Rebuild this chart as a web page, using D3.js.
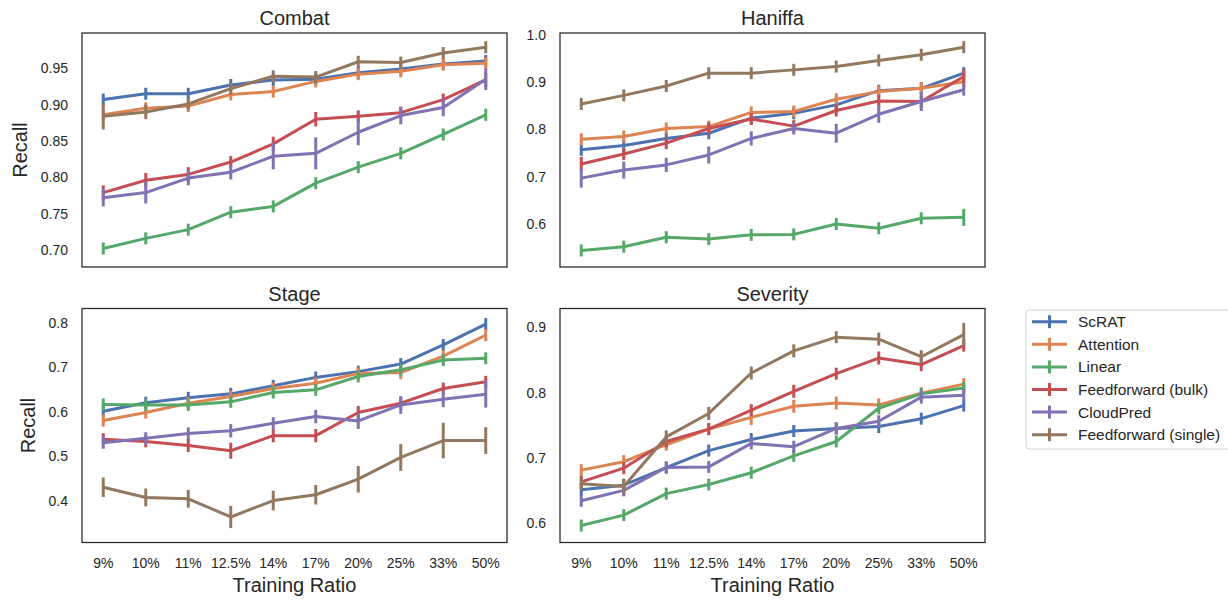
<!DOCTYPE html>
<html>
<head>
<meta charset="utf-8">
<script src="https://cdn.jsdelivr.net/npm/d3@7"></script>
<style>
  body { margin: 0; background: #fff; }
  svg { font-family: 'Liberation Sans', Arial, sans-serif; }
  .tick-label { fill: #262626; font-size: 14px; }
  .title { fill: #262626; font-size: 20px; }
  .axis-label { fill: #262626; font-size: 20px; }
  .legend-label { fill: #262626; font-size: 15.5px; }
</style>
</head>
<body>
<svg width="1228" height="600"></svg>
<script>
(function(d3) {
  'use strict';

  const ratios = ['9%', '10%', '11%', '12.5%', '14%', '17%', '20%', '25%', '33%', '50%'];
  const models = ['ScRAT', 'Attention', 'Linear', 'Feedforward (bulk)', 'CloudPred', 'Feedforward (single)'];
  const colors = ['#4c72b0', '#dd8452', '#55a868', '#c44e52', '#8172b3', '#937860'];

  // Mean recall per model (same order as `models`), one array per dataset.
  const combatRecall = [
    [0.907, 0.915, 0.915, 0.927, 0.934, 0.935, 0.944, 0.949, 0.956, 0.960],
    [0.886, 0.895, 0.898, 0.914, 0.918, 0.932, 0.942, 0.946, 0.955, 0.957],
    [0.702, 0.716, 0.728, 0.752, 0.760, 0.792, 0.814, 0.833, 0.859, 0.886],
    [0.779, 0.796, 0.804, 0.821, 0.846, 0.880, 0.884, 0.889, 0.907, 0.934],
    [0.772, 0.779, 0.799, 0.807, 0.829, 0.833, 0.862, 0.885, 0.896, 0.935],
    [0.884, 0.890, 0.901, 0.922, 0.939, 0.938, 0.959, 0.958, 0.971, 0.979],
  ];
  const combatErr = [
    [0.004, 0.004, 0.004, 0.004, 0.004, 0.004, 0.004, 0.004, 0.004, 0.004],
    [0.005, 0.005, 0.005, 0.005, 0.006, 0.005, 0.005, 0.005, 0.005, 0.005],
    [0.004, 0.005, 0.005, 0.005, 0.005, 0.006, 0.005, 0.005, 0.005, 0.006],
    [0.010, 0.010, 0.010, 0.008, 0.010, 0.010, 0.008, 0.008, 0.006, 0.010],
    [0.012, 0.015, 0.010, 0.010, 0.018, 0.022, 0.018, 0.012, 0.012, 0.015],
    [0.018, 0.010, 0.008, 0.005, 0.006, 0.006, 0.005, 0.005, 0.005, 0.005],
  ];

  const haniffaRecall = [
    [0.757, 0.766, 0.781, 0.792, 0.824, 0.834, 0.852, 0.882, 0.887, 0.919],
    [0.779, 0.785, 0.802, 0.806, 0.836, 0.838, 0.864, 0.880, 0.887, 0.901],
    [0.544, 0.552, 0.572, 0.568, 0.577, 0.578, 0.600, 0.591, 0.612, 0.614],
    [0.727, 0.748, 0.771, 0.802, 0.822, 0.807, 0.840, 0.860, 0.859, 0.912],
    [0.697, 0.714, 0.725, 0.746, 0.781, 0.802, 0.792, 0.832, 0.859, 0.884],
    [0.854, 0.872, 0.892, 0.919, 0.919, 0.926, 0.933, 0.946, 0.958, 0.974],
  ];
  const haniffaErr = [
    [0.010, 0.010, 0.010, 0.010, 0.010, 0.010, 0.010, 0.010, 0.010, 0.010],
    [0.008, 0.008, 0.008, 0.008, 0.008, 0.008, 0.008, 0.008, 0.008, 0.008],
    [0.005, 0.006, 0.005, 0.005, 0.005, 0.006, 0.008, 0.010, 0.010, 0.018],
    [0.015, 0.012, 0.012, 0.010, 0.010, 0.010, 0.010, 0.010, 0.010, 0.015],
    [0.020, 0.018, 0.015, 0.018, 0.015, 0.012, 0.020, 0.018, 0.020, 0.012],
    [0.012, 0.012, 0.012, 0.012, 0.012, 0.010, 0.010, 0.010, 0.010, 0.008],
  ];

  const stageRecall = [
    [0.601, 0.620, 0.631, 0.640, 0.658, 0.677, 0.690, 0.707, 0.750, 0.797],
    [0.580, 0.598, 0.619, 0.634, 0.652, 0.664, 0.686, 0.688, 0.725, 0.772],
    [0.616, 0.615, 0.615, 0.622, 0.643, 0.649, 0.679, 0.694, 0.716, 0.720],
    [0.538, 0.533, 0.524, 0.512, 0.546, 0.546, 0.598, 0.619, 0.652, 0.667],
    [0.530, 0.540, 0.551, 0.557, 0.574, 0.589, 0.579, 0.615, 0.628, 0.639],
    [0.430, 0.407, 0.404, 0.363, 0.400, 0.413, 0.448, 0.497, 0.535, 0.535],
  ];
  const stageErr = [
    [0.008, 0.008, 0.008, 0.008, 0.008, 0.008, 0.008, 0.008, 0.008, 0.008],
    [0.010, 0.010, 0.010, 0.008, 0.008, 0.010, 0.008, 0.015, 0.010, 0.012],
    [0.008, 0.008, 0.008, 0.008, 0.008, 0.008, 0.008, 0.008, 0.008, 0.008],
    [0.012, 0.012, 0.015, 0.018, 0.015, 0.015, 0.015, 0.008, 0.012, 0.012],
    [0.010, 0.010, 0.010, 0.015, 0.012, 0.015, 0.018, 0.020, 0.018, 0.030],
    [0.022, 0.020, 0.020, 0.025, 0.022, 0.022, 0.030, 0.030, 0.040, 0.030],
  ];

  const severityRecall = [
    [0.651, 0.658, 0.685, 0.711, 0.728, 0.741, 0.745, 0.748, 0.760, 0.780],
    [0.681, 0.694, 0.720, 0.744, 0.762, 0.779, 0.784, 0.781, 0.799, 0.813],
    [0.596, 0.612, 0.645, 0.659, 0.677, 0.703, 0.725, 0.776, 0.798, 0.807],
    [0.663, 0.684, 0.725, 0.744, 0.773, 0.802, 0.829, 0.853, 0.843, 0.872],
    [0.634, 0.650, 0.685, 0.686, 0.722, 0.717, 0.745, 0.756, 0.793, 0.796],
    [0.660, 0.656, 0.732, 0.768, 0.830, 0.864, 0.885, 0.882, 0.855, 0.889],
  ];
  const severityErr = [
    [0.005, 0.005, 0.006, 0.006, 0.010, 0.008, 0.008, 0.010, 0.008, 0.006],
    [0.006, 0.010, 0.008, 0.008, 0.012, 0.010, 0.010, 0.010, 0.008, 0.008],
    [0.004, 0.005, 0.005, 0.005, 0.005, 0.005, 0.006, 0.006, 0.005, 0.008],
    [0.008, 0.008, 0.008, 0.008, 0.008, 0.010, 0.008, 0.010, 0.010, 0.008],
    [0.006, 0.005, 0.006, 0.006, 0.008, 0.006, 0.006, 0.006, 0.010, 0.010],
    [0.008, 0.012, 0.010, 0.010, 0.010, 0.010, 0.008, 0.010, 0.010, 0.018],
  ];

  const panels = [
    {title: 'Combat', recall: combatRecall, err: combatErr, domain: [0.6766, 0.9986],
      ticks: [0.70, 0.75, 0.80, 0.85, 0.90, 0.95], fmt: '.2f', col: 0, row: 0},
    {title: 'Haniffa', recall: haniffaRecall, err: haniffaErr, domain: [0.509, 1.004],
      ticks: [0.6, 0.7, 0.8, 0.9, 1.0], fmt: '.1f', col: 1, row: 0},
    {title: 'Stage', recall: stageRecall, err: stageErr, domain: [0.3056, 0.832],
      ticks: [0.4, 0.5, 0.6, 0.7, 0.8], fmt: '.1f', col: 0, row: 1},
    {title: 'Severity', recall: severityRecall, err: severityErr, domain: [0.570, 0.929],
      ticks: [0.6, 0.7, 0.8, 0.9], fmt: '.1f', col: 1, row: 1},
  ];

  const svg = d3.select('svg');
  const colX = [82, 560];
  const rowY = [33, 308.5];
  const boxW = 425;
  const boxH = 234;

  const xScale = d3.scalePoint().domain(ratios).range([0, boxW]).padding(0.5);

  const line = d3.line().
      x(function(d, i) { return xScale(ratios[i]); });

  panels.forEach(function(p) {
    const g = svg.append('g').
        attr('transform', `translate(${colX[p.col]},${rowY[p.row]})`);
    const yScale = d3.scaleLinear().domain(p.domain).range([boxH, 0]);
    line.y(function(d) { return yScale(d); });

    // y tick labels
    g.selectAll('.ytick').data(p.ticks).enter().
        append('text').
        attr('class', 'tick-label').
        attr('x', -14).
        attr('y', function(d) { return yScale(d); }).
        attr('dy', '0.36em').
        attr('text-anchor', 'end').
        text(d3.format(p.fmt));

    // series, drawn in legend order so the last one sits on top
    p.recall.forEach(function(values, s) {
      const sg = g.append('g');
      sg.append('path').
          datum(values).
          attr('fill', 'none').
          attr('stroke', colors[s]).
          attr('stroke-width', 3).
          attr('stroke-linejoin', 'round').
          attr('d', line);
      sg.selectAll('line').data(values).enter().
          append('line').
          attr('x1', function(d, i) { return xScale(ratios[i]); }).
          attr('x2', function(d, i) { return xScale(ratios[i]); }).
          attr('y1', function(d, i) {
            return Math.min(yScale(d + p.err[s][i]), yScale(d) - 6);
          }).
          attr('y2', function(d, i) {
            return Math.max(yScale(d - p.err[s][i]), yScale(d) + 6);
          }).
          attr('stroke', colors[s]).
          attr('stroke-width', 3);
    });

    g.append('rect').
        attr('width', boxW).
        attr('height', boxH).
        attr('fill', 'none').
        attr('stroke', '#262626').
        attr('stroke-width', 1.25);

    g.append('text').
        attr('class', 'title').
        attr('x', boxW / 2).
        attr('y', -8).
        attr('text-anchor', 'middle').
        text(p.title);

    if (p.col === 0) {
      const labelX = p.fmt === '.2f' ? -62 : -54;
      g.append('text').
          attr('class', 'axis-label').
          attr('transform', `translate(${labelX},${boxH / 2}) rotate(-90)`).
          attr('dy', '0.36em').
          attr('text-anchor', 'middle').
          text('Recall');
    }

    if (p.row === 1) {
      g.selectAll('.xtick').data(ratios).enter().
          append('text').
          attr('class', 'tick-label').
          attr('x', function(d) { return xScale(d); }).
          attr('y', boxH + 25).
          attr('text-anchor', 'middle').
          text(function(d) { return d; });
      g.append('text').
          attr('class', 'axis-label').
          attr('x', boxW / 2).
          attr('y', boxH + 49).
          attr('text-anchor', 'middle').
          text('Training Ratio');
    }
  });

  // Legend
  const legend = svg.append('g').attr('transform', 'translate(1026,310)');
  legend.append('rect').
      attr('width', 210).
      attr('height', 139).
      attr('rx', 3).
      attr('fill', '#fff').
      attr('stroke', '#d0d0d0').
      attr('stroke-width', 1);
  const items = legend.selectAll('.item').data(models).enter().
      append('g').
      attr('transform', function(d, i) { return `translate(0,${11.7 + i * 22.6})`; });
  items.append('line').
      attr('x1', 6).attr('x2', 41).
      attr('stroke', function(d, i) { return colors[i]; }).
      attr('stroke-width', 3);
  items.append('line').
      attr('x1', 23.5).attr('x2', 23.5).
      attr('y1', -6.5).attr('y2', 6.5).
      attr('stroke', function(d, i) { return colors[i]; }).
      attr('stroke-width', 3);
  items.append('text').
      attr('class', 'legend-label').
      attr('x', 52).
      attr('dy', '0.36em').
      text(function(d) { return d; });
}(d3));
</script>
</body>
</html>
